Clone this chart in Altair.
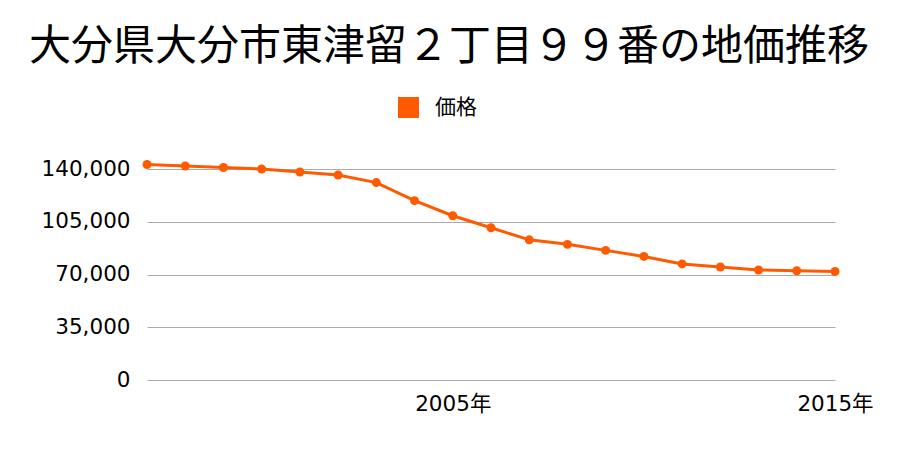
import altair as alt
import pandas as pd

years = list(range(1997, 2016))
prices = [143000, 142000, 141000, 140000, 138000, 136000, 131000, 119000, 109000,
          101000, 93000, 90000, 86000, 82000, 77000, 75000, 73000, 72500, 72000]
series = ["価格"] * len(years)
y_ticks = [0, 35000, 70000, 105000, 140000]
x_ticks = [2005, 2015]

df = pd.DataFrame({"year": years, "price": prices, "series": series})

FONT = "Noto Sans CJK JP"
NUMFONT = "DejaVu Sans, Noto Sans CJK JP"
ORANGE = "#ff5a00"

chart = alt.Chart(df).mark_line(
    point=alt.OverlayMarkDef(size=80, filled=True, opacity=1),
    strokeWidth=3,
).encode(
    x=alt.X("year:Q", scale=alt.Scale(domain=[1997, 2015], nice=False, zero=False),
            axis=alt.Axis(values=x_ticks, labelExpr="datum.value + '年'", grid=False,
                          domain=False, ticks=False, labelFontSize=21.5, labelPadding=13,
                          labelFlush=False, labelOverlap=False,
                          labelColor="#000000", labelFont=NUMFONT, title=None)),
    y=alt.Y("price:Q", scale=alt.Scale(domain=[0, 140000], nice=False),
            axis=alt.Axis(values=y_ticks, format=",d", domain=False, ticks=False,
                          gridColor="#aaaaaa", gridWidth=1, labelFontSize=21.5,
                          labelPadding=17, labelColor="#000000", labelFont=NUMFONT, title=None)),
    color=alt.Color("series:N", scale=alt.Scale(range=[ORANGE]),
                    legend=alt.Legend(title=None, orient="none", legendX=251, legendY=-72,
                                      symbolType="square", symbolSize=441,
                                      symbolStrokeWidth=0, labelFontSize=21,
                                      labelOffset=16,
                                      labelFont=FONT, labelColor="#000000",
                                      symbolOpacity=1)),
).properties(
    width=688,
    height=211,
    title=alt.TitleParams("大分県大分市東津留２丁目９９番の地価推移", fontSize=42,
                          font=FONT, fontWeight="normal", color="#000000",
                          anchor="middle", offset=28, dx=-42),
    autosize=alt.AutoSizeParams(type="none"),
    padding={"left": 147, "top": 169, "right": 65, "bottom": 70},
).configure_view(stroke=None)

chart.save("out.html", embed_options={"renderer": "svg", "actions": False})
